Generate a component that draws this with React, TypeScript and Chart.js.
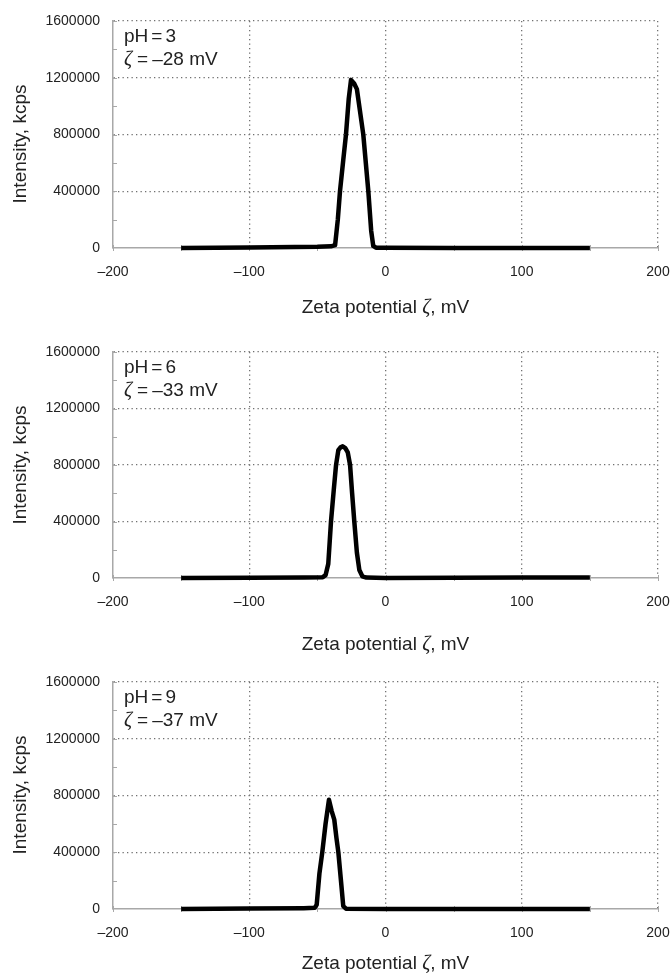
import React, { useEffect, useRef } from "react";
import { Chart, registerables } from "chart.js";

Chart.register(...registerables);

// ---- data ----
const zetaPH3 = [-150, -100, -50, -40, -37, -35, -33.4, -31, -29, -27, -25.3, -23, -21, -18.5, -16.3, -12.6, -10.5, -9, -7, 0, 50, 100, 150];
const intensityPH3 = [0, 3000, 8000, 12000, 20000, 200000, 400000, 620000, 800000, 1050000, 1185000, 1160000, 1120000, 950000, 800000, 400000, 120000, 15000, 2000, 1000, 0, 0, 0];

const zetaPH6 = [-150, -100, -60, -46, -44, -42, -40, -38, -36.3, -34.6, -33, -31.4, -29.5, -27.7, -26, -24.5, -22.9, -21, -19.2, -17, -14, 0, 50, 100, 150];
const intensityPH6 = [0, 2000, 4000, 6000, 20000, 100000, 400000, 620000, 800000, 905000, 925000, 932000, 920000, 890000, 800000, 600000, 400000, 180000, 57000, 12000, 3000, 0, 2000, 3000, 4000];

const zetaPH9 = [-150, -100, -60, -52, -50.5, -48.5, -46.4, -44, -41.5, -39.5, -37.6, -36, -34.6, -32.5, -31, -29, 0, 50, 100, 150];
const intensityPH9 = [0, 3000, 6000, 8000, 30000, 250000, 400000, 600000, 770000, 690000, 630000, 500000, 400000, 180000, 20000, 2000, 0, 0, 0, 0];

const xTickValues = [-200, -100, 0, 100, 200];
const xTickLabels = ["\u2013200", "\u2013100", "0", "100", "200"];
const yTickValues = [0, 400000, 800000, 1200000, 1600000];
const yTickLabels = ["0", "400000", "800000", "1200000", "1600000"];

const pHLabels = ["3", "6", "9"];
const zetaLabels = ["\u201328 mV", "\u201333 mV", "\u201337 mV"];

const xTitleMain = "Zeta potential ";
const xTitleSymbol = "\u03B6";
const xTitleUnit = ", mV";
const yTitle = "Intensity, kcps";

// ---- layout (per panel) ----
const panels = [
  { zeta: zetaPH3, intensity: intensityPH3, canvasH: 330, top: 21, plotH: 227, xTitleY: 313, yTitleY: 144 },
  { zeta: zetaPH6, intensity: intensityPH6, canvasH: 330, top: 22, plotH: 226, xTitleY: 320, yTitleY: 135 },
  { zeta: zetaPH9, intensity: intensityPH9, canvasH: 315, top: 22, plotH: 227, xTitleY: 309, yTitleY: 135 },
];

const SANS = '"Liberation Sans", Arial, sans-serif';
const SERIF = '"Liberation Serif", "Times New Roman", serif';
const TEXT = "#222";
const AXIS = "#a8a8a8";
const GRID = "#707070";

type Run = { text: string; font: string; gapAfter?: number };

function drawRuns(ctx: CanvasRenderingContext2D, runs: Run[], x: number, y: number, align: "left" | "center") {
  let total = 0;
  const widths = runs.map((r) => {
    ctx.font = r.font;
    const w = ctx.measureText(r.text).width;
    total += w + (r.gapAfter || 0);
    return w;
  });
  let cx = align === "center" ? x - total / 2 : x;
  runs.forEach((r, i) => {
    ctx.font = r.font;
    ctx.fillText(r.text, cx, y);
    cx += widths[i] + (r.gapAfter || 0);
  });
}

function Panel({ idx }: { idx: number }) {
  const ref = useRef<HTMLCanvasElement | null>(null);
  const p = panels[idx];

  useEffect(() => {
    if (!ref.current) return;
    const data = p.zeta.map((z, i) => ({ x: z, y: p.intensity[i] }));

    const decor = {
      id: "decor" + idx,
      beforeDatasetsDraw(chart: any) {
        const ctx = chart.ctx as CanvasRenderingContext2D;
        const xs = chart.scales.x;
        const ys = chart.scales.y;
        const area = chart.chartArea;
        ctx.save();
        ctx.strokeStyle = AXIS;
        ctx.lineWidth = 1;
        ctx.beginPath();
        for (let v = 200000; v <= 1600000; v += 200000) {
          const py = Math.round(ys.getPixelForValue(v)) + 0.5;
          ctx.moveTo(area.left, py);
          ctx.lineTo(area.left + 4, py);
        }
        for (let v = -200; v <= 200; v += 50) {
          const px = Math.round(xs.getPixelForValue(v)) + 0.5;
          ctx.moveTo(px, area.bottom - 3);
          ctx.lineTo(px, area.bottom + 3);
        }
        ctx.stroke();
        ctx.restore();
      },
      afterDraw(chart: any) {
        const ctx = chart.ctx as CanvasRenderingContext2D;
        const area = chart.chartArea;
        const xs = chart.scales.x;
        ctx.save();
        ctx.fillStyle = TEXT;
        ctx.textBaseline = "alphabetic";
        ctx.textAlign = "left";
        // annotation
        const f = `19px ${SANS}`;
        drawRuns(ctx, [
          { text: "pH", font: f, gapAfter: 3 },
          { text: "=", font: f, gapAfter: 3 },
          { text: pHLabels[idx], font: f },
        ], area.left + 11, area.top + 21, "left");
        drawRuns(ctx, [
          { text: "\u03B6", font: `italic 20px ${SERIF}`, gapAfter: 5 },
          { text: "=", font: f, gapAfter: 4 },
          { text: zetaLabels[idx], font: f },
        ], area.left + 11, area.top + 44, "left");
        // x title
        const cx = xs.getPixelForValue(0);
        drawRuns(ctx, [
          { text: xTitleMain, font: `19px ${SANS}` },
          { text: xTitleSymbol, font: `italic 20px ${SERIF}` },
          { text: xTitleUnit, font: `19px ${SANS}` },
        ], cx, p.xTitleY, "center");
        // y title
        ctx.translate(26, p.yTitleY);
        ctx.rotate(-Math.PI / 2);
        ctx.textAlign = "center";
        ctx.font = `19px ${SANS}`;
        ctx.fillText(yTitle, 0, 0);
        ctx.restore();
      },
    };

    const chart = new Chart(ref.current, {
      type: "line",
      data: {
        datasets: [
          {
            data,
            borderColor: "#000",
            borderWidth: 4.5,
            pointRadius: 0,
            tension: 0,
            borderJoinStyle: "round",
            borderCapStyle: "butt",
            clip: false,
            fill: false,
          } as any,
        ],
      },
      options: {
        responsive: false,
        animation: false,
        maintainAspectRatio: false,
        layout: { padding: { left: 0, right: 13, top: p.top, bottom: 0 } },
        plugins: { legend: { display: false }, tooltip: { enabled: false }, title: { display: false } },
        events: [],
        scales: {
          x: {
            type: "linear",
            min: -200,
            max: 200,
            afterFit: (s: any) => {
              s.height = p.canvasH - p.top - p.plotH;
              s.paddingLeft = 0;
              s.paddingRight = 0;
            },
            ticks: {
              stepSize: 50,
              autoSkip: false,
              maxRotation: 0,
              padding: 16,
              color: TEXT,
              font: { family: SANS, size: 14 },
              callback: (v: any) => {
                const i = xTickValues.indexOf(Number(v));
                return i >= 0 ? xTickLabels[i] : "";
              },
            },
            grid: {
              drawTicks: false,
              lineWidth: 1.3,
              color: (c: any) => {
                const v = c.tick ? c.tick.value : null;
                return v !== null && v % 100 === 0 && v !== -200 ? GRID : "rgba(0,0,0,0)";
              },
            },
            border: { display: true, color: AXIS, width: 1.5, dash: [1.3, 3.2] },
          },
          y: {
            type: "linear",
            min: 0,
            max: 1600000,
            afterFit: (s: any) => {
              s.width = 113;
              s.paddingTop = 0;
              s.paddingBottom = 0;
            },
            ticks: {
              stepSize: 200000,
              autoSkip: false,
              padding: 13,
              color: TEXT,
              font: { family: SANS, size: 14 },
              callback: (v: any) => {
                const i = yTickValues.indexOf(Number(v));
                return i >= 0 ? yTickLabels[i] : "";
              },
            },
            grid: {
              drawTicks: false,
              lineWidth: 1.3,
              color: (c: any) => {
                const v = c.tick ? c.tick.value : null;
                return v !== null && v % 400000 === 0 && v !== 0 ? GRID : "rgba(0,0,0,0)";
              },
            },
            border: { display: true, color: AXIS, width: 1.5, dash: [1.3, 3.2] },
          },
        },
      },
      plugins: [decor],
    } as any);

    return () => chart.destroy();
  }, [idx]);

  return <canvas ref={ref} width={671} height={p.canvasH} style={{ display: "block", width: 671, height: p.canvasH }} />;
}

export default function App() {
  return (
    <div style={{ position: "absolute", left: 0, top: 0, width: 671, height: 975, overflow: "hidden", background: "#fff" }}>
      {panels.map((_, i) => (
        <Panel key={i} idx={i} />
      ))}
    </div>
  );
}
